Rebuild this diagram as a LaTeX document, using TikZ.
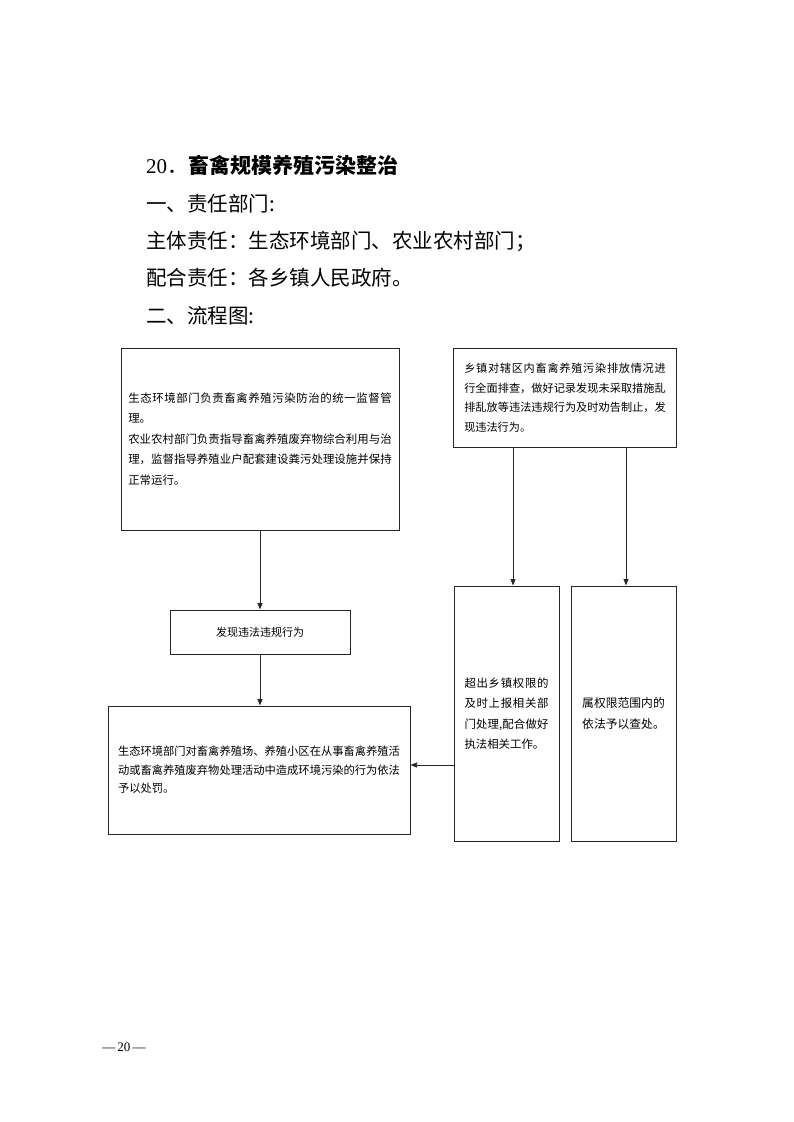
\documentclass[tikz,border=0pt]{standalone}
\usepackage{fontspec}
\setmainfont{Noto Sans CJK SC}
\newfontfamily\latinserif{Liberation Serif}
\XeTeXlinebreaklocale "zh"
\XeTeXlinebreakskip=0pt plus 1pt
\usetikzlibrary{arrows.meta,positioning}
\tikzset{
  kuang/.style={rectangle, draw=black!85, line width=1pt, align=left, inner sep=0pt},
  arr/.style={-{Triangle[length=6.5pt,width=5pt]}, line width=0.75pt, draw=black!85},
  hline/.style={anchor=base west, inner sep=0pt, font=\fontsize{20.5}{24}\selectfont},
}

\begin{document}
\begin{tikzpicture}[x=1pt, y=-1pt]
\useasboundingbox (0,0) rectangle (793,1122);
\node[anchor=base west, inner sep=0pt, font=\fontsize{21}{24}\selectfont] (title) at (146,173) {{\latinserif 20}．\textbf{畜禽规模养殖污染整治}};
\node[hline] (h1) at (146,211) {一、责任部门:};
\node[hline] (h2) at (146,248) {主体责任：生态环境部门、农业农村部门；};
\node[hline] (h3) at (146,285) {配合责任：各乡镇人民政府。};
\node[hline] (h4) at (146,323) {二、流程图:};
\node[kuang, minimum width=278pt, minimum height=182pt, text width=263.5pt, align=justify, font=\fontsize{11.42}{20.5}\selectfont] (jianguan) at (260,439) {生态环境部门负责畜禽养殖污染防治的统一监督管\linebreak 理。\\农业农村部门负责指导畜禽养殖废弃物综合利用与治\linebreak 理，监督指导养殖业户配套建设粪污处理设施并保持\linebreak 正常运行。};
\node[kuang, minimum width=223pt, minimum height=99pt, text width=201.5pt, align=justify, font=\fontsize{11.15}{19.5}\selectfont] (paicha) at (565,397.5) {乡镇对辖区内畜禽养殖污染排放情况进\linebreak 行全面排查，做好记录发现未采取措施乱\linebreak 排乱放等违法违规行为及时劝告制止，发\linebreak 现违法行为。};
\node[kuang, minimum width=180pt, minimum height=44pt, font=\fontsize{11}{14}\selectfont] (faxian) at (260,632) {发现违法违规行为};
\node[kuang, minimum width=302pt, minimum height=128pt, font=\fontsize{11.28}{18.5}\selectfont] (chufa) at (259,770) {生态环境部门对畜禽养殖场、养殖小区在从事畜禽养殖活\\动或畜禽养殖废弃物处理活动中造成环境污染的行为依法\\予以处罚。};
\node[kuang, minimum width=105pt, minimum height=255pt, text width=84pt, align=justify, font=\fontsize{11.4}{20.5}\selectfont] (shangbao) at (506.5,713.5) {超出乡镇权限的\linebreak 及时上报相关部\linebreak 门处理,配合做好\linebreak 执法相关工作。};
\node[kuang, minimum width=105pt, minimum height=255pt, font=\fontsize{11.8}{20.5}\selectfont] (chachu) at (623.5,713.5) {属权限范围内的\\依法予以查处。};
\node[inner sep=0pt, font=\fontsize{13}{15}\latinserif] (yema) at (124,1047) {—\,20\,—};
\draw[arr] (jianguan.south) -- (faxian.north);
\draw[arr] (faxian.south) -- (faxian.south |- chufa.north);
\draw[arr] ([xshift=6.5pt]shangbao.north |- paicha.south) -- ([xshift=6.5pt]shangbao.north);
\draw[arr] ([xshift=2.5pt]chachu.north |- paicha.south) -- ([xshift=2.5pt]chachu.north);
\draw[arr] ([yshift=-51.5pt]shangbao.west) -- ([yshift=-51.5pt]shangbao.west -| chufa.east);
\end{tikzpicture}
\end{document}
